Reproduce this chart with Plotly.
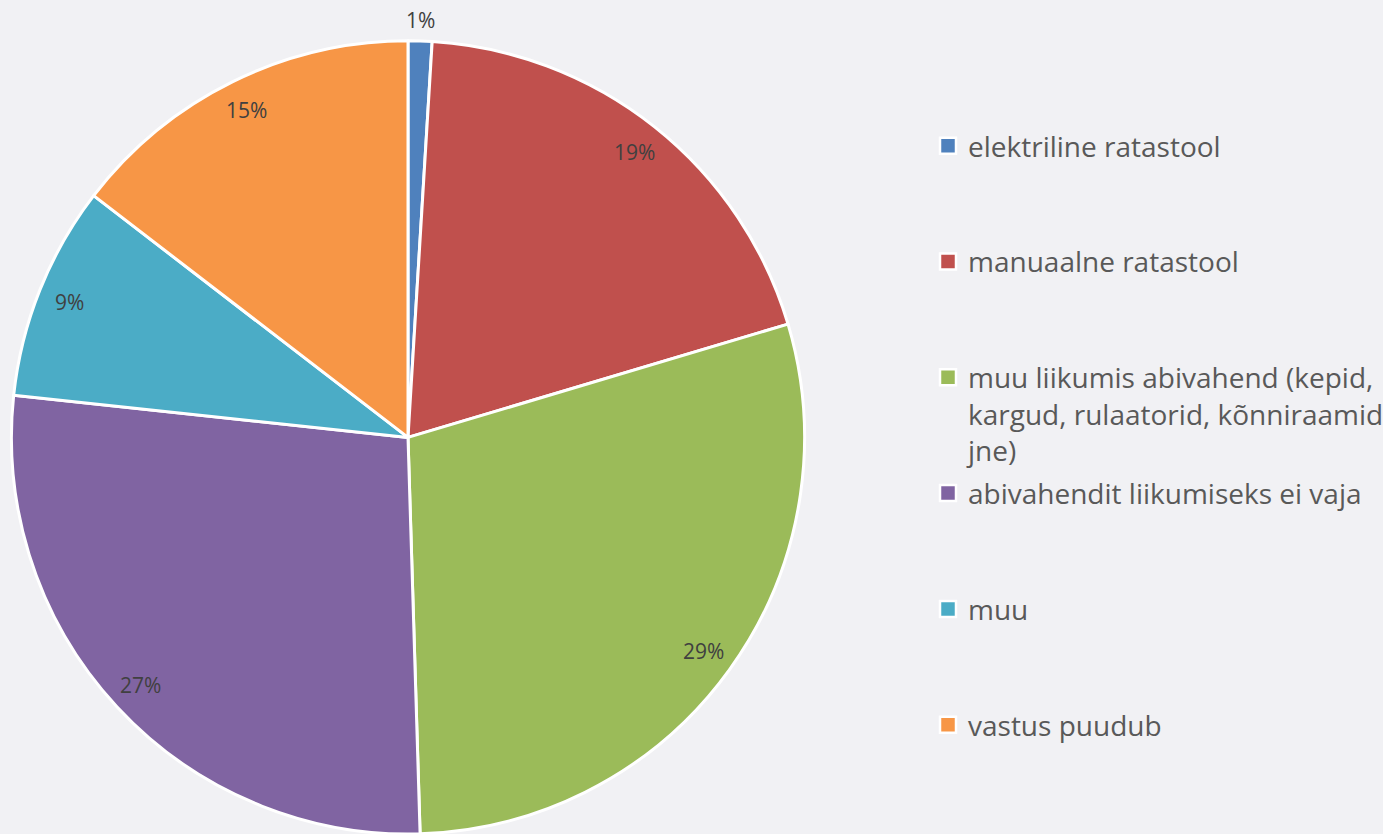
import math
import plotly.graph_objects as go

# ---- data ----
categories = [
    "elektriline ratastool",
    "manuaalne ratastool",
    "muu liikumis abivahend (kepid, kargud, rulaatorid, kõnniraamid jne)",
    "abivahendit liikumiseks ei vaja",
    "muu",
    "vastus puudub",
]
counts = [1, 20, 30, 28, 9, 15]
legend_labels = [
    "elektriline ratastool<br>\u00a0<br>\u00a0",
    "manuaalne ratastool<br>\u00a0<br>\u00a0",
    "muu liikumis abivahend (kepid,<br>kargud, rulaatorid, kõnniraamid<br>jne)",
    "abivahendit liikumiseks ei vaja<br>\u00a0<br>\u00a0",
    "muu<br>\u00a0<br>\u00a0",
    "vastus puudub<br>\u00a0<br>\u00a0",
]
colors = ["#4f81bd", "#c0504d", "#9bbb59", "#8064a2", "#4bacc6", "#f79646"]

W, H = 1383, 834
BG = "#f1f1f4"
dom_x = [10 / W, 806 / W]
dom_y = [0.0, 0.951]

fig = go.Figure()
fig.add_trace(go.Pie(
    labels=categories,
    values=counts,
    sort=False,
    direction="clockwise",
    rotation=0,
    marker=dict(colors=colors, line=dict(color="white", width=3)),
    textinfo="none",
    hovertemplate="%{label}: %{percent}<extra></extra>",
    domain=dict(x=dom_x, y=dom_y),
    showlegend=False,
))

# legend entries (one per category)
for name, lab, col in zip(categories, legend_labels, colors):
    fig.add_trace(go.Scatter(
        x=[None], y=[None], mode="markers", name=lab, legendgroup=name,
        marker=dict(symbol="square", size=16, color=col,
                    line=dict(color="white", width=2.5)),
        hoverinfo="skip",
    ))

# data labels positioned from the data (Excel "best fit" style)
total = sum(counts)
wpx = (dom_x[1] - dom_x[0]) * W
hpx = (dom_y[1] - dom_y[0]) * H
R = min(wpx, hpx) / 2
cx = (dom_x[0] + dom_x[1]) / 2 * W
cy_up = (dom_y[0] + dom_y[1]) / 2 * H
cum = 0
for c in counts:
    share = c / total
    mid = (cum + share / 2) * 2 * math.pi
    cum += share
    f = 1.053 if share < 0.03 else 0.92
    px = cx + R * f * math.sin(mid)
    py = cy_up + R * f * math.cos(mid)
    fig.add_annotation(
        x=px / W, y=py / H, xref="paper", yref="paper",
        text=f"{round(share * 100)}%", showarrow=False,
        font=dict(family="Open Sans", size=21, color="#404040"),
        xanchor="center", yanchor="middle",
    )

fig.update_layout(
    width=W, height=H,
    margin=dict(l=0, r=0, t=0, b=0, autoexpand=False),
    paper_bgcolor=BG,
    plot_bgcolor=BG,
    xaxis=dict(visible=False),
    yaxis=dict(visible=False),
    showlegend=True,
    legend=dict(
        x=928 / W, xanchor="left",
        y=1 - 121 / H, yanchor="top",
        valign="top",
        font=dict(family="Open Sans", size=28, color="#595959"),
        bgcolor="rgba(0,0,0,0)",
        tracegroupgap=3.6,
        itemsizing="trace",
    ),
)

fig.write_html(
    "out.html",
    config={"displayModeBar": False},
    post_script="document.body.style.margin='0';document.body.style.background='" + BG + "';",
)
